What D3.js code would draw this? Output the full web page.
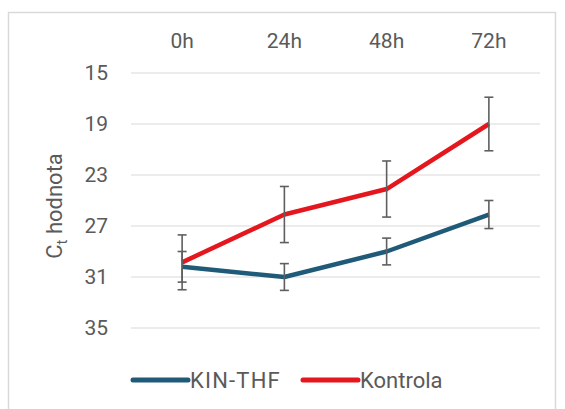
<!DOCTYPE html>
<html>
<head>
<meta charset="utf-8">
<script src="https://cdn.jsdelivr.net/npm/d3@7"></script>
<style>
  html, body { margin: 0; padding: 0; background: #fff; }
  svg { display: block; font-family: "Roboto", "Liberation Sans", sans-serif; }
</style>
</head>
<body>
<svg id="chart" width="565" height="409"></svg>
<script>
// Time points and Ct values (mean ± error) for both groups
const timepoints = ["0h", "24h", "48h", "72h"];
const kinThf = [30.2, 31.0, 29.0, 26.1];
const kinThfErr = [1.2, 1.05, 1.05, 1.1];
const kontrola = [29.85, 26.1, 24.1, 19.0];
const kontrolaErr = [2.15, 2.2, 2.2, 2.1];
const yTicks = [15, 19, 23, 27, 31, 35];
const seriesNames = ["KIN-THF", "Kontrola"];
const seriesColors = ["#1f5b78", "#e3171d"];

const svg = d3.select("#chart");
const textColor = "#5a5a5a";

// Outer chart frame
svg.append("rect")
  .attr("x", 8.5).attr("y", 12.5)
  .attr("width", 547).attr("height", 420)
  .attr("fill", "#fff")
  .attr("stroke", "#d9d9d9").attr("stroke-width", 1.5);

const x = d3.scaleBand().domain(timepoints).range([131, 540]);
const y = d3.scaleLinear().domain([15, 35]).range([73, 328]);
const cx = d => x(d) + x.bandwidth() / 2;

// Horizontal gridlines
svg.append("g").selectAll("line").data(yTicks).join("line")
  .attr("x1", 131).attr("x2", 540)
  .attr("y1", d => y(d)).attr("y2", d => y(d))
  .attr("stroke", "#d9d9d9").attr("stroke-width", 1.2);

// Y axis tick labels
const yAxis = d3.axisLeft(y).tickValues(yTicks).tickSize(0).tickPadding(0);
const gy = svg.append("g").attr("transform", "translate(108,0)").call(yAxis);
gy.select(".domain").remove();
gy.selectAll("text")
  .attr("fill", textColor)
  .style("font-size", "21px")
  .style("font-family", "Roboto, sans-serif");

// X axis labels along the top
const xAxis = d3.axisTop(x).tickSize(0).tickPadding(0);
const gx = svg.append("g").attr("transform", "translate(0,48)").call(xAxis);
gx.select(".domain").remove();
gx.selectAll("text")
  .attr("fill", textColor)
  .style("font-size", "21px")
  .style("font-family", "Roboto, sans-serif");

// Y axis title with subscript
const title = svg.append("text")
  .attr("transform", "translate(62,206) rotate(-90)")
  .attr("text-anchor", "middle")
  .attr("fill", textColor)
  .style("font-size", "22px");
title.append("tspan").text("C");
title.append("tspan").attr("dy", 5).style("font-size", "15px").text("t");
title.append("tspan").attr("dy", -5).text(" hodnota");

const series = [
  { name: seriesNames[0], values: kinThf, errs: kinThfErr, color: seriesColors[0] },
  { name: seriesNames[1], values: kontrola, errs: kontrolaErr, color: seriesColors[1] }
];

const line = d3.line().x((d, i) => cx(timepoints[i])).y(d => y(d));

// Lines
series.forEach(s => {
  svg.append("path")
    .datum(s.values)
    .attr("d", line)
    .attr("fill", "none")
    .attr("stroke", s.color)
    .attr("stroke-width", 4.5)
    .attr("stroke-linejoin", "round");
});

// Error bars
const capHalf = 4.5;
series.forEach(s => {
  const g = svg.append("g").attr("stroke", "#5f5f5f").attr("stroke-width", 1.6);
  s.values.forEach((v, i) => {
    const px = cx(timepoints[i]);
    const top = y(v - s.errs[i]);
    const bot = y(v + s.errs[i]);
    g.append("line").attr("x1", px).attr("x2", px).attr("y1", top).attr("y2", bot);
    g.append("line").attr("x1", px - capHalf).attr("x2", px + capHalf).attr("y1", top).attr("y2", top);
    g.append("line").attr("x1", px - capHalf).attr("x2", px + capHalf).attr("y1", bot).attr("y2", bot);
  });
});

// Legend
const legendItems = [
  { x0: 133, color: seriesColors[0], name: seriesNames[0], spacing: 1.2 },
  { x0: 303, color: seriesColors[1], name: seriesNames[1], spacing: 0 }
];
legendItems.forEach(it => {
  svg.append("line")
    .attr("x1", it.x0).attr("x2", it.x0 + 55)
    .attr("y1", 380).attr("y2", 380)
    .attr("stroke", it.color).attr("stroke-width", 5)
    .attr("stroke-linecap", "round");
  svg.append("text")
    .attr("x", it.x0 + 57).attr("y", 387.5)
    .attr("fill", textColor)
    .style("font-size", "22px")
    .style("letter-spacing", it.spacing + "px")
    .text(it.name);
});
</script>
</body>
</html>
